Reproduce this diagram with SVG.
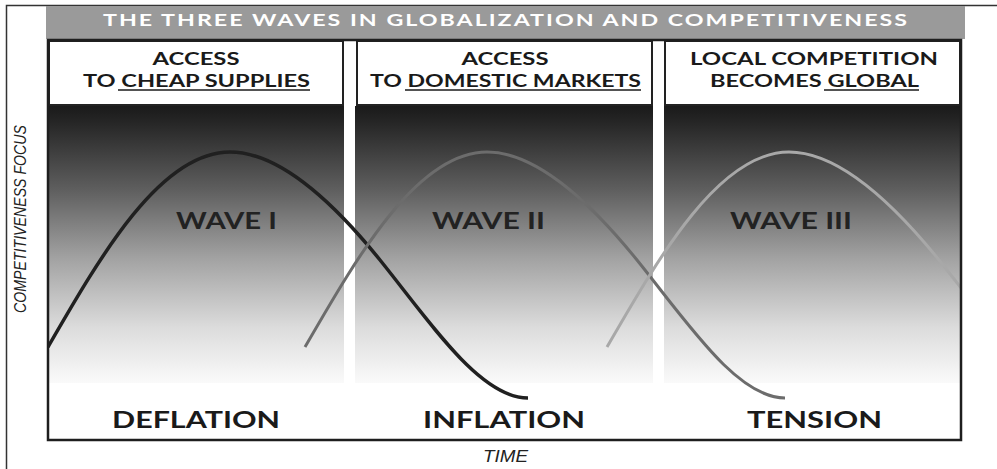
<svg xmlns="http://www.w3.org/2000/svg" xmlns:xlink="http://www.w3.org/1999/xlink" width="997" height="469" viewBox="0 0 997 469">
<style>
  .hdr { font-family: Lato, "Open Sans", "DejaVu Sans", sans-serif; font-weight: 700; font-size: 16.5px; fill: #1a1a1a; }
  .title { font-family: Lato, "Open Sans", "DejaVu Sans", sans-serif; font-weight: 700; font-size: 17.5px; fill: #ffffff; letter-spacing: 1.5px; }
  .wave { font-family: Lato, "Open Sans", "DejaVu Sans", sans-serif; font-weight: 700; font-size: 23px; fill: #222; }
  .econ { font-family: Lato, "Open Sans", "DejaVu Sans", sans-serif; font-weight: 700; font-size: 22px; fill: #1a1a1a; }
  .axis { font-family: "Liberation Sans", Arial, sans-serif; font-style: italic; font-size: 17px; fill: #222; }
  .hbox { fill: #ffffff; stroke: #222; stroke-width: 2; }
  .ul { stroke: #1a1a1a; stroke-width: 1.5; }
  .curve { fill: none; stroke-linecap: butt; }
</style>
<defs>
  <linearGradient id="bg" gradientUnits="userSpaceOnUse" x1="0" y1="106" x2="0" y2="383">
    <stop offset="0" stop-color="#1a1a1a"/>
    <stop offset="0.06" stop-color="#262626"/>
    <stop offset="0.3" stop-color="#5e5e5e"/>
    <stop offset="0.55" stop-color="#a2a2a2"/>
    <stop offset="0.8" stop-color="#dcdcdc"/>
    <stop offset="1" stop-color="#fafafa"/>
  </linearGradient>
  <clipPath id="chartClip">
    <rect x="48" y="40" width="913" height="400"/>
  </clipPath>
  <path id="wavePath" d="M -182 195 C -130 105 -70 0 0 0 C 45 0 95 40 150 108 C 200 170 250 246 298 246"/>
</defs>

<rect x="0" y="0" width="997" height="469" fill="#ffffff"/>

<g id="frame">
  <path d="M 6.5 469 V 5.5 H 997" fill="none" stroke="#333" stroke-width="1.5"/>
</g>

<g id="title-bar">
  <rect x="46" y="6" width="919" height="33" fill="#9a9a9a"/>
  <text class="title" x="103" y="26" textLength="806" lengthAdjust="spacingAndGlyphs">THE THREE WAVES IN GLOBALIZATION AND COMPETITIVENESS</text>
</g>

<g id="panels">
  <rect x="47" y="106" width="297" height="277" fill="url(#bg)"/>
  <rect x="355" y="106" width="298" height="277" fill="url(#bg)"/>
  <rect x="664" y="106" width="298" height="277" fill="url(#bg)"/>
</g>

<g id="header-1">
  <rect class="hbox" x="49" y="41" width="294" height="64"/>
  <text class="hdr" x="196" y="65" text-anchor="middle" textLength="87" lengthAdjust="spacingAndGlyphs">ACCESS</text>
  <text class="hdr" x="83" y="87" textLength="227" lengthAdjust="spacingAndGlyphs">TO CHEAP SUPPLIES</text>
  <line class="ul" x1="118" y1="90" x2="310" y2="90"/>
</g>

<g id="header-2">
  <rect class="hbox" x="357" y="41" width="295" height="64"/>
  <text class="hdr" x="505" y="65" text-anchor="middle" textLength="87" lengthAdjust="spacingAndGlyphs">ACCESS</text>
  <text class="hdr" x="370" y="87" textLength="271" lengthAdjust="spacingAndGlyphs">TO DOMESTIC MARKETS</text>
  <line class="ul" x1="405" y1="90" x2="641" y2="90"/>
</g>

<g id="header-3">
  <rect class="hbox" x="665" y="41" width="295" height="64"/>
  <text class="hdr" x="690" y="65" textLength="248" lengthAdjust="spacingAndGlyphs">LOCAL COMPETITION</text>
  <text class="hdr" x="710" y="87" textLength="209" lengthAdjust="spacingAndGlyphs">BECOMES GLOBAL</text>
  <line class="ul" x1="824" y1="90" x2="919" y2="90"/>
</g>

<g id="connectors" clip-path="url(#chartClip)">
  <use id="wave-1-curve" xlink:href="#wavePath" href="#wavePath" class="curve" transform="translate(230,152)" stroke="#202020" stroke-width="3.5"/>
  <use id="wave-2-curve" xlink:href="#wavePath" href="#wavePath" class="curve" transform="translate(487,152)" stroke="#6c6c6c" stroke-width="3"/>
  <use id="wave-3-curve" xlink:href="#wavePath" href="#wavePath" class="curve" transform="translate(789,152)" stroke="#a8a8a8" stroke-width="3"/>
</g>

<g id="wave-1">
  <text class="wave" x="176" y="229" textLength="101" lengthAdjust="spacingAndGlyphs">WAVE I</text>
  <text class="econ" x="112" y="428" textLength="168" lengthAdjust="spacingAndGlyphs">DEFLATION</text>
</g>
<g id="wave-2">
  <text class="wave" x="432" y="229" textLength="113" lengthAdjust="spacingAndGlyphs">WAVE II</text>
  <text class="econ" x="423" y="428" textLength="162" lengthAdjust="spacingAndGlyphs">INFLATION</text>
</g>
<g id="wave-3">
  <text class="wave" x="730" y="229" textLength="122" lengthAdjust="spacingAndGlyphs">WAVE III</text>
  <text class="econ" x="747" y="428" textLength="135" lengthAdjust="spacingAndGlyphs">TENSION</text>
</g>

<g id="chart-box">
  <rect x="48" y="40" width="913" height="400" fill="none" stroke="#1e1e1e" stroke-width="2.5"/>
</g>

<g id="axes">
  <text class="axis" x="0" y="0" transform="translate(25.5,219) rotate(-90)" text-anchor="middle" textLength="188" lengthAdjust="spacingAndGlyphs">COMPETITIVENESS FOCUS</text>
  <text class="axis" x="483" y="462" font-size="18" textLength="45" lengthAdjust="spacingAndGlyphs">TIME</text>
</g>
</svg>
